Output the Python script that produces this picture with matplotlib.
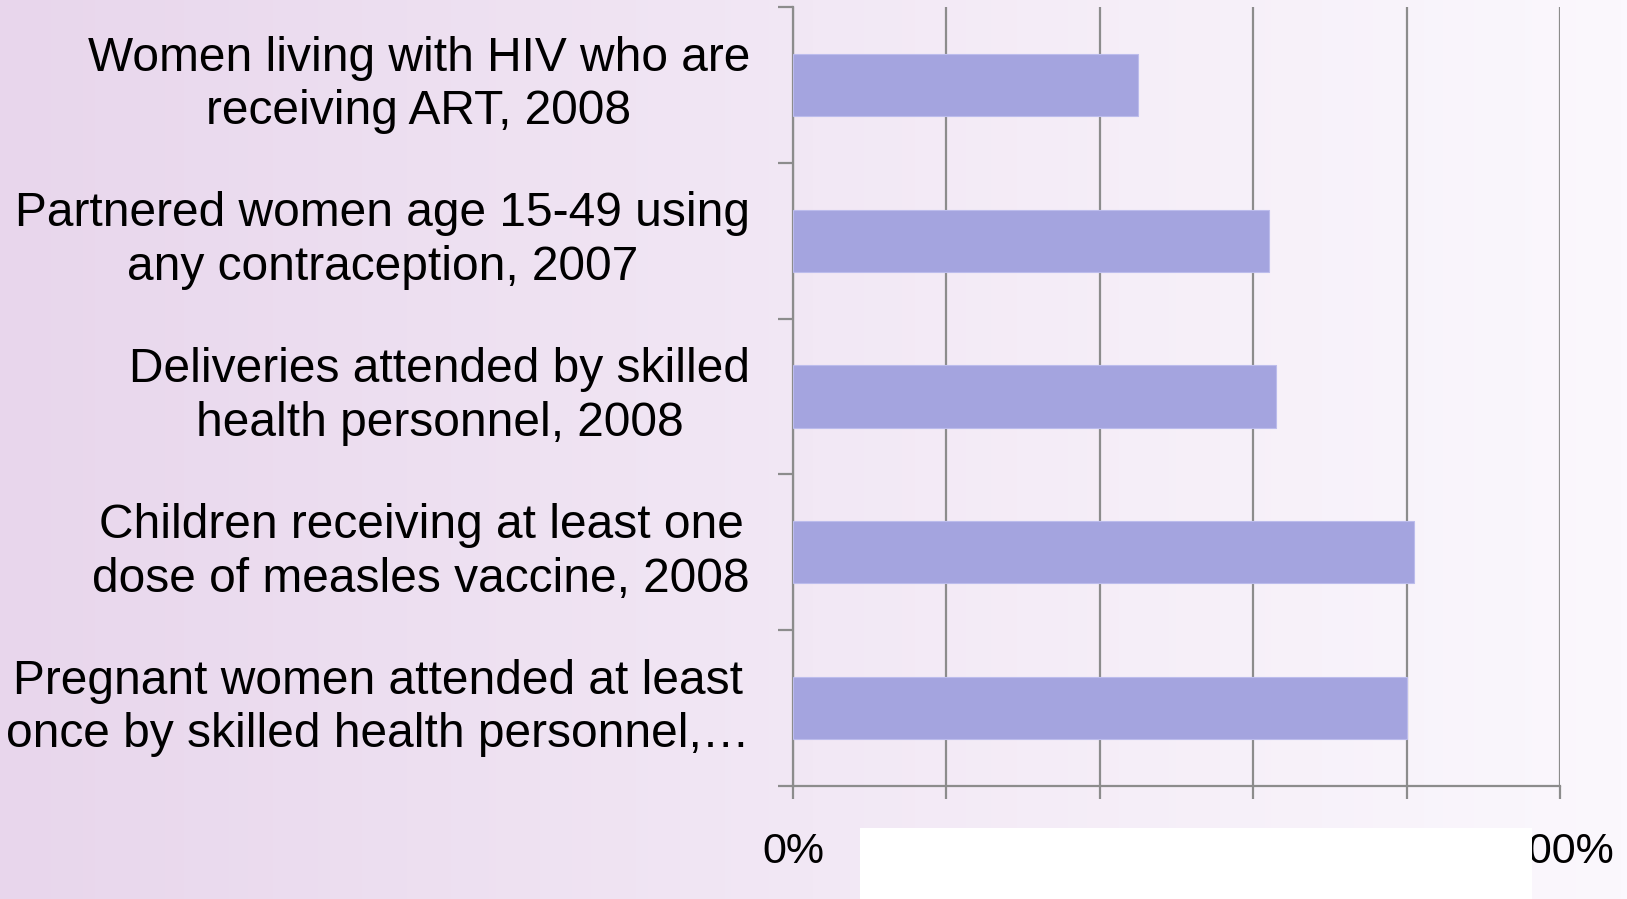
import numpy as np
import matplotlib.pyplot as plt
from matplotlib.patches import Rectangle
from matplotlib.colors import LinearSegmentedColormap

# data, top to bottom as shown
categories = [
    "Women living with HIV who are\nreceiving ART, 2008",
    "Partnered women age 15-49 using\nany contraception, 2007",
    "Deliveries attended by skilled\nhealth personnel, 2008",
    "Children receiving at least one\ndose of measles vaccine, 2008",
    "Pregnant women attended at least\nonce by skilled health personnel,\u2026",
]
values = [45, 62, 63, 81, 80]
xticks = [0, 20, 40, 60, 80, 100]
xtick_labels = ["0%", "20%", "40%", "60%", "80%", "100%"]

plt.rcParams['font.family'] = ['Liberation Sans', 'DejaVu Sans']

fig = plt.figure(figsize=(16.27, 8.99), dpi=100)

# background gradient, light purple on the left to near white on the right
bg = fig.add_axes([0, 0, 1, 1], zorder=-1)
cmap = LinearSegmentedColormap.from_list('bg', ['#e8d6ec', '#f2e8f5', '#fbf8fd'])
bg.imshow(np.linspace(0, 1, 256).reshape(1, -1), aspect='auto', cmap=cmap,
          extent=[0, 1, 0, 1])
bg.set_axis_off()

ax = fig.add_axes([0.4874, 0.1257, 0.4714, 0.8665])
ax.patch.set_visible(False)

ypos = np.arange(len(categories))
ax.barh(ypos, values, height=0.4, color='#a4a4df', edgecolor='#bcbcec',
        linewidth=0.8, zorder=3)

ax.set_xlim(0, 100)
ax.set_ylim(len(categories) - 0.5, -0.5)

ax.set_xticks(xticks)
ax.set_xticklabels(xtick_labels)
ax.set_yticks(np.arange(len(categories) + 1) - 0.5)
ax.set_yticklabels([])
ax.set_yticks(ypos, minor=True)
ax.set_yticklabels(categories, minor=True, multialignment='center',
                   linespacing=1.25, va='center')

ax.grid(axis='x', color='#8c8c8c', linewidth=1.6, zorder=1)
for side in ['top', 'right']:
    ax.spines[side].set_visible(False)
for side in ['left', 'bottom']:
    ax.spines[side].set_color('#8c8c8c')
    ax.spines[side].set_linewidth(1.6)

ax.tick_params(axis='y', which='major', length=11, width=1.6, color='#8c8c8c')
ax.tick_params(axis='y', which='minor', length=0, pad=31, labelsize=34.5)
ax.tick_params(axis='x', length=9, width=1.6, color='#8c8c8c', pad=24, labelsize=31)

# white box hiding most of the x tick labels
fig.patches.append(Rectangle((860 / 1627, 0), 672 / 1627, 71 / 899,
                             transform=fig.transFigure, facecolor='white',
                             edgecolor='none', zorder=5))

fig.savefig('out.png', dpi=100)
